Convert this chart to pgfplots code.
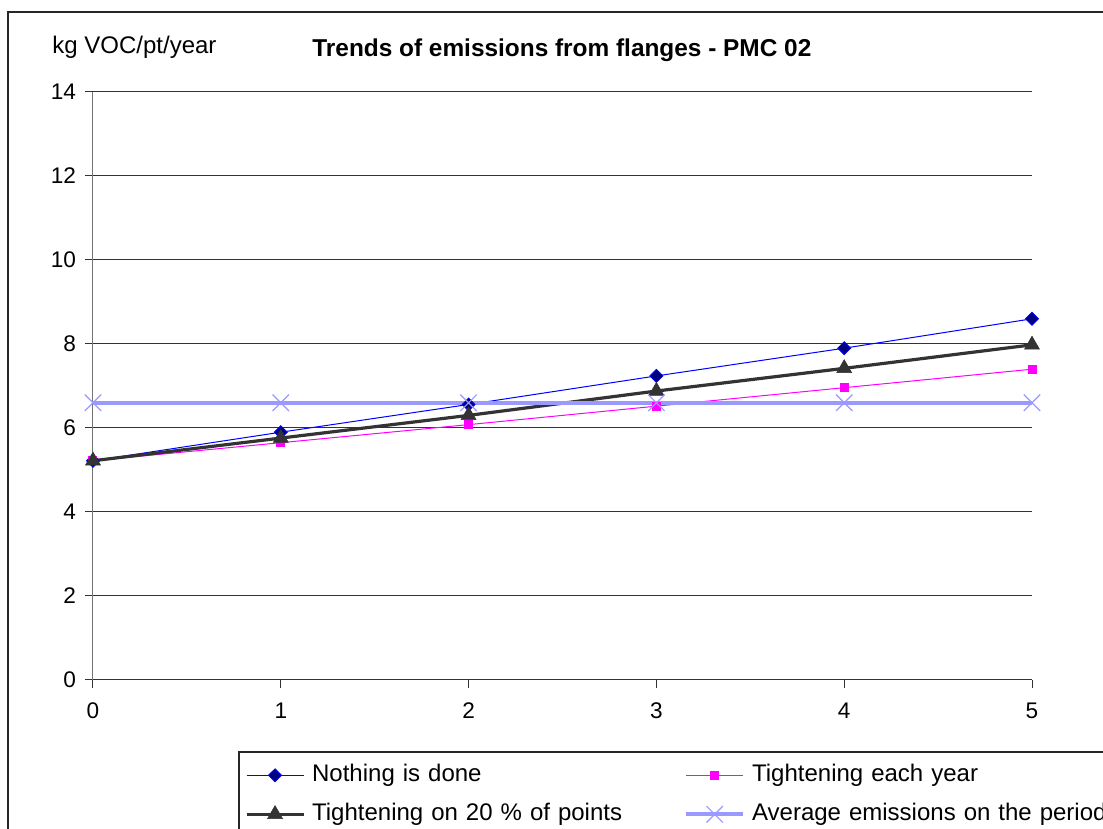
\documentclass[border=0pt]{standalone}
\usepackage{pgfplots}
\pgfplotsset{compat=1.18}
\usepackage{fontspec}
\setmainfont{Liberation Sans}
\definecolor{cblue}{HTML}{0000FF}
\definecolor{cnavy}{HTML}{000080}
\definecolor{cpink}{HTML}{FF00FF}
\definecolor{cdark}{HTML}{333333}
\definecolor{clight}{HTML}{9999FF}
\begin{document}
\begin{tikzpicture}[x=0.5pt,y=0.5pt]
\useasboundingbox (0,0) rectangle (1103,829);
\clip (0,0) rectangle (1103,829);
\fill[white] (0,0) rectangle (1103,829);
\draw[black!85, line width=0.8pt] (8,817) rectangle (1130,-30);
\begin{axis}[
  at={(46.5pt,74.5pt)}, anchor=south west,
  scale only axis, width=469.5pt, height=294pt,
  xmin=0, xmax=5, ymin=0, ymax=14,
  xtick={0,1,2,3,4,5}, ytick={0,2,4,6,8,10,12,14},
  axis lines*=left,
  x axis line style={black!80, line width=0.5pt, -},
  y axis line style={black!55, line width=0.5pt, -},
  tick align=outside, major tick length=4pt,
  tick style={black!80, line width=0.5pt},
  ymajorgrids, major grid style={black!80, line width=0.5pt},
  /pgf/number format/assume math mode=true,
  ticklabel style={font=\fontsize{11.3}{13}\selectfont},
  yticklabel style={xshift=-1pt},
  xticklabel style={yshift=-4pt},
  clip=false,
  legend columns=2,
  legend style={draw=none, fill=none,
    at={(axis description cs:0.155,-0.135)}, anchor=north west,
    font=\fontsize{12}{14}\selectfont,
    column sep=0pt, row sep=8pt,
    nodes={inner sep=0pt, text width=186pt, align=left, text height=9pt, text depth=2.5pt}},
  /tikz/every odd column/.style={column sep=3.5pt},
  legend image code/.code={\draw[mark repeat=2,mark phase=2,#1] plot coordinates {(0pt,0pt) (14.25pt,0pt) (28.5pt,0pt)};},
]
\addplot[cblue, line width=0.5pt, mark=square*, mark size=2.3pt,
  mark options={rotate=45, fill=cnavy, draw=cblue, line width=0.4pt}]
  coordinates {(0,5.22) (1,5.90) (2,6.56) (3,7.24) (4,7.90) (5,8.60)};
\addlegendentry{Nothing is done}
\addplot[cpink, line width=0.5pt, mark=square*, mark size=2pt,
  mark options={fill=cpink, draw=cpink}]
  coordinates {(0,5.22) (1,5.65) (2,6.08) (3,6.52) (4,6.96) (5,7.40)};
\addlegendentry{Tightening each year}
\addplot[cdark, line width=1.6pt, mark=triangle*, mark size=4.3pt,
  mark options={fill=cdark, draw=cdark, line width=0.3pt}]
  coordinates {(0,5.22) (1,5.76) (2,6.30) (3,6.88) (4,7.42) (5,7.98)};
\addlegendentry{Tightening on 20 \% of points}
\addplot[clight, line width=2pt, mark=x, mark size=5.8pt,
  mark options={draw=clight, line width=0.6pt}]
  coordinates {(0,6.60) (1,6.60) (2,6.60) (3,6.60) (4,6.60) (5,6.60)};
\addlegendentry{Average emissions on the period}
\end{axis}
\draw[black!85, line width=0.6pt] (239,77) rectangle (1130,-30);
\node[anchor=west, inner sep=0pt, font=\fontsize{12}{14}\selectfont] at (52,782) {kg VOC/pt/year};
\node[anchor=west, inner sep=0pt, font=\bfseries\fontsize{12.2}{14}\selectfont] at (312,779) {Trends of emissions from flanges - PMC 02};
\end{tikzpicture}
\end{document}
